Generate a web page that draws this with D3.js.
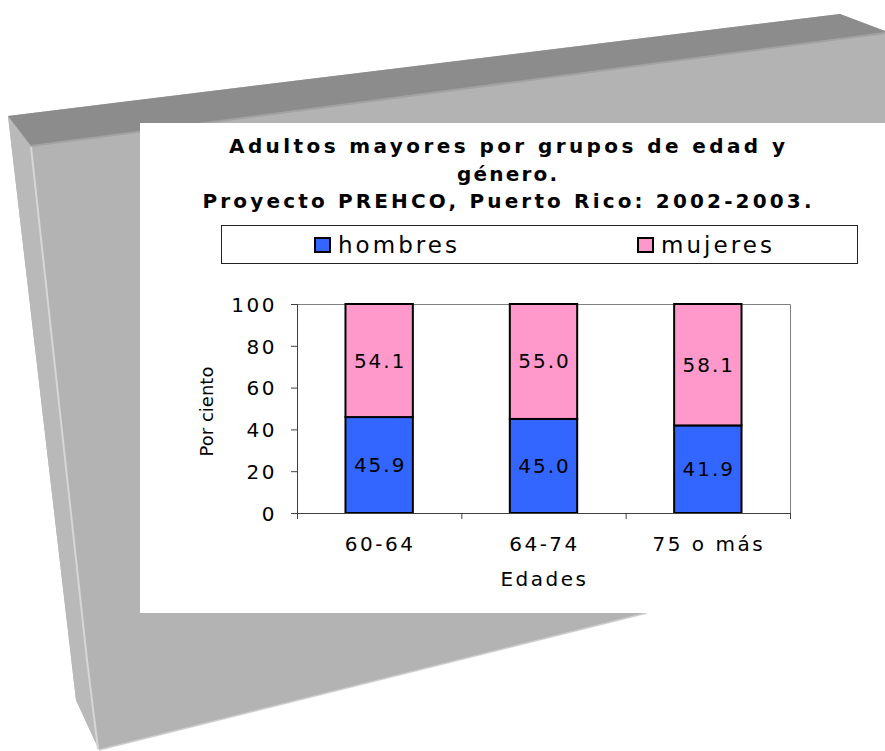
<!DOCTYPE html>
<html>
<head>
<meta charset="utf-8">
<script src="https://cdn.jsdelivr.net/npm/d3@7"></script>
<style>
  body { margin: 0; background: #fff; }
  text { font-family: "DejaVu Sans", Verdana, sans-serif; fill: #000; }
  .axis path, .axis line { stroke: #404040; }
</style>
</head>
<body>
<div id="chart"></div>
<script>
// data
var categories = ["60-64", "64-74", "75 o más"];
var hombres = [45.9, 45.0, 41.9];
var mujeres = [54.1, 55.0, 58.1];
var yTicks = [0, 20, 40, 60, 80, 100];
var seriesNames = ["hombres", "mujeres"];

var colours = { hombres: "#3366ff", mujeres: "#ff99cc" };

var svg = d3.select("#chart")
  .append("svg")
    .attr("width", 885)
    .attr("height", 751);

// decorative slab behind the chart
var bg = svg.append("g").attr("class", "slab");
bg.append("path")
  .attr("d", "M8,116 L840,14 L885,31 L885,613 L647,613 L99,750 L76,700 Z")
  .attr("fill", "#b3b3b3");
bg.append("path")
  .attr("d", "M8,116 L31,146 L87,660 L97,748 L99,750 L76,700 Z")
  .attr("fill", "#b9b9b9");
bg.append("path")
  .attr("d", "M8,116 L840,14 L885,31 L885,33 L31,146 Z")
  .attr("fill", "#8c8c8c");
bg.append("path")
  .attr("d", "M31,146 L885,33")
  .attr("stroke", "#a2a2a2").attr("stroke-width", 2).attr("fill", "none");
bg.append("path")
  .attr("d", "M31,147 L87,660 L98,749")
  .attr("stroke", "#d6d6d6").attr("stroke-width", 2).attr("fill", "none");
bg.append("path")
  .attr("d", "M99,750 L647,613")
  .attr("stroke", "#d0d0d0").attr("stroke-width", 1.5).attr("fill", "none");

// white chart area
svg.append("rect")
  .attr("x", 140).attr("y", 123)
  .attr("width", 745).attr("height", 490)
  .attr("fill", "#fff");

// title
var titleLines = [
  { text: "Adultos mayores por grupos de edad y", y: 153, len: 556 },
  { text: "género.", y: 181, len: 100 },
  { text: "Proyecto PREHCO, Puerto Rico: 2002-2003.", y: 208, len: 609 }
];
svg.selectAll(".title")
  .data(titleLines)
  .enter()
  .append("text")
    .attr("class", "title")
    .attr("x", 507)
    .attr("y", function(d) { return d.y; })
    .attr("text-anchor", "middle")
    .attr("font-size", "20px")
    .attr("font-weight", "bold")
    .attr("textLength", function(d) { return d.len; })
    .attr("lengthAdjust", "spacing")
    .text(function(d) { return d.text; });

// legend
svg.append("rect")
  .attr("x", 221.5).attr("y", 225.5)
  .attr("width", 636).attr("height", 38)
  .attr("fill", "#fff")
  .attr("stroke", "#222");

var legendItems = [
  { name: "hombres", sx: 315, tx: 338, len: 119 },
  { name: "mujeres", sx: 638, tx: 661, len: 111 }
];
var legend = svg.selectAll(".legend-item")
  .data(legendItems)
  .enter()
  .append("g")
    .attr("class", "legend-item");
legend.append("rect")
  .attr("x", function(d) { return d.sx; })
  .attr("y", 238)
  .attr("width", 15).attr("height", 14)
  .attr("fill", function(d) { return colours[d.name]; })
  .attr("stroke", "#000")
  .attr("stroke-width", 2);
legend.append("text")
  .attr("x", function(d) { return d.tx; })
  .attr("y", 253)
  .attr("font-size", "23px")
  .attr("textLength", function(d) { return d.len; })
  .attr("lengthAdjust", "spacing")
  .text(function(d) { return d.name; });

// plot
var plot = { left: 297, top: 304, right: 790, bottom: 513 };
var width = plot.right - plot.left;
var height = plot.bottom - plot.top;

var chart = svg.append("g")
  .attr("transform", "translate(" + plot.left + "," + plot.top + ")");

var xScale = d3.scaleBand()
  .domain(categories)
  .range([0, width])
  .paddingInner(0.59)
  .paddingOuter(0.295);

var xTickScale = d3.scaleLinear().domain([0, categories.length]).range([0, width]);

var yScale = d3.scaleLinear()
  .domain([0, 100])
  .range([height, 0]);

// plot border (top & right)
chart.append("path")
  .attr("d", "M0,0.5 H" + (width + 0.5) + " V" + height)
  .attr("fill", "none")
  .attr("stroke", "#808080");

var table = categories.map(function(c, i) {
  return { cat: c, hombres: hombres[i], mujeres: mujeres[i] };
});
var stacked = d3.stack().keys(seriesNames)(table);

var layers = chart.selectAll(".layer")
  .data(stacked)
  .enter()
  .append("g")
    .attr("class", "layer")
    .attr("fill", function(d) { return colours[d.key]; });

layers.selectAll("rect")
  .data(function(d) { return d; })
  .enter()
  .append("rect")
    .attr("x", function(d) { return xScale(d.data.cat); })
    .attr("y", function(d) { return yScale(d[1]); })
    .attr("width", xScale.bandwidth())
    .attr("height", function(d) { return yScale(d[0]) - yScale(d[1]); })
    .attr("stroke", "#000")
    .attr("stroke-width", 2);

layers.selectAll(".value")
  .data(function(d) { return d; })
  .enter()
  .append("text")
    .attr("class", "value")
    .attr("x", function(d) { return xScale(d.data.cat) + xScale.bandwidth() / 2 + 1; })
    .attr("y", function(d) { return (yScale(d[0]) + yScale(d[1])) / 2 + 7; })
    .attr("text-anchor", "middle")
    .attr("font-size", "20px")
    .attr("letter-spacing", "2px")
    .style("fill", "#000")
    .text(function(d) { return (d[1] - d[0]).toFixed(1); });

// axes
var yAxis = d3.axisLeft(yScale).tickValues(yTicks).tickSize(6).tickPadding(14).tickSizeOuter(0);
var gy = chart.append("g")
  .attr("class", "axis y-axis")
  .call(yAxis);
gy.selectAll("text")
  .attr("font-size", "20px")
  .attr("letter-spacing", "2.5px")
  .attr("dy", "0.36em")
  .style("font-family", "'DejaVu Sans', sans-serif")
  .style("fill", "#000");
gy.select(".domain").attr("d", "M0.5," + height + "V0");

var xAxis = d3.axisBottom(xTickScale).tickValues(d3.range(categories.length + 1)).tickSize(6).tickFormat("").tickSizeOuter(0);
chart.append("g")
  .attr("class", "axis x-axis")
  .attr("transform", "translate(0," + height + ")")
  .call(xAxis);

chart.selectAll(".cat-label")
  .data(categories)
  .enter()
  .append("text")
    .attr("class", "cat-label")
    .attr("x", function(d) { return xScale(d) + xScale.bandwidth() / 2 + 1; })
    .attr("y", height + 38)
    .attr("text-anchor", "middle")
    .attr("font-size", "20px")
    .attr("letter-spacing", "2.5px")
    .text(function(d) { return d; });

chart.append("text")
  .attr("x", width / 2 + 1)
  .attr("y", height + 73)
  .attr("text-anchor", "middle")
  .attr("font-size", "20px")
  .attr("letter-spacing", "2.5px")
  .text("Edades");

chart.append("text")
  .attr("transform", "translate(" + (-84) + "," + (height / 2 + 3) + ") rotate(-90)")
  .attr("text-anchor", "middle")
  .attr("font-size", "18px")
  .text("Por ciento");
</script>
</body>
</html>
